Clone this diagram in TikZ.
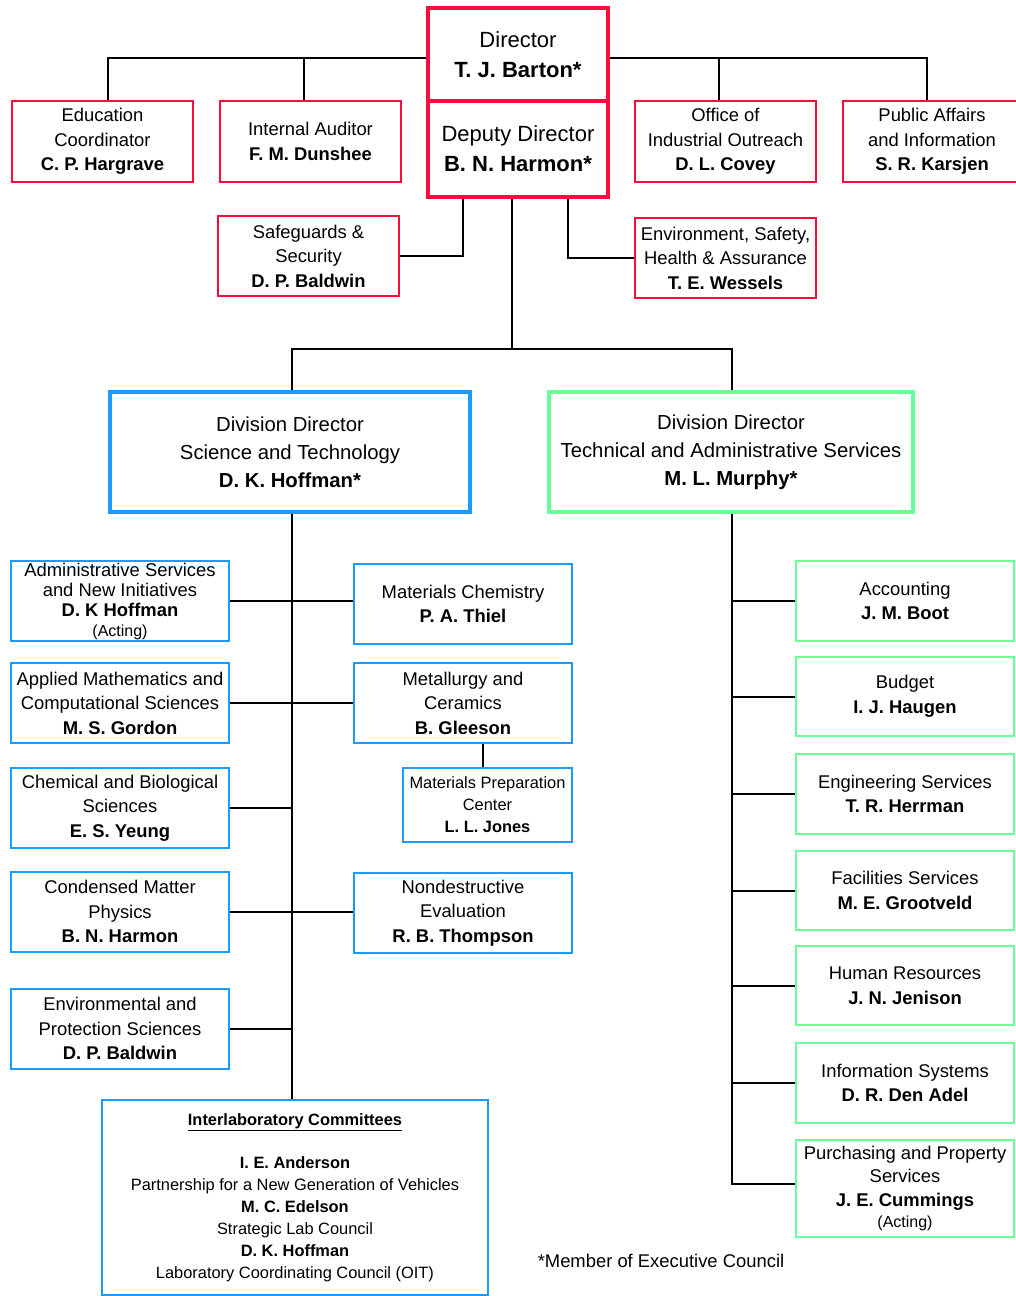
\documentclass[tikz,border=0pt]{standalone}
\usepackage{fontspec}
\setmainfont{Liberation Sans}
\usepackage{tikz}
\usetikzlibrary{positioning,calc}
\definecolor{boxred}{RGB}{255,10,60}
\definecolor{boxblue}{RGB}{26,155,255}
\definecolor{boxgreen}{RGB}{102,255,153}

\begin{document}
\begin{tikzpicture}[
  x=1pt, y=-1pt,
  font=\fontsize{18.4}{24.5}\selectfont,
  unit/.style={draw, fill=white, align=center, inner sep=0pt, minimum width=218pt, minimum height=80pt},
  redbox/.style={unit, draw=boxred, line width=2pt, minimum width=181pt, minimum height=81pt},
  topbox/.style={redbox, line width=3.5pt, minimum width=180pt, font=\fontsize{22}{30}\selectfont},
  divbox/.style={unit, line width=3.5pt, minimum height=120pt, font=\fontsize{20.3}{28}\selectfont},
  bluebox/.style={unit, draw=boxblue, line width=2pt},
  greenbox/.style={unit, draw=boxgreen, line width=2pt},
  small/.style={font=\fontsize{16.4}{22}\selectfont},
  link/.style={draw=black, line width=2pt},
]
\useasboundingbox (0,0) rectangle (1016,1296);

% director's office
\node[topbox, minimum height=93pt] (dir) at (518,54.5) {Director\\\textbf{T. J. Barton*}};
\node[topbox, minimum height=96pt] (dep) at (518,149) {Deputy Director\\\textbf{B. N. Harmon*}};
\node[redbox] (edu) at (102.5,141.5) {Education\\Coordinator\\\textbf{C. P. Hargrave}};
\node[redbox] (audit) at (310.5,141.5) {Internal Auditor\\\textbf{F. M. Dunshee}};
\node[redbox] (outreach) at (725.5,141.5) {Office of\\Industrial Outreach\\\textbf{D. L. Covey}};
\node[redbox, minimum width=178pt] (public) at (932,141.5) {Public Affairs\\and Information\\\textbf{S. R. Karsjen}};
\node[redbox, minimum height=80pt] (safeg) at (308.5,256) {Safeguards \&\\Security\\\textbf{D. P. Baldwin}};
\node[redbox, minimum height=80pt] (esh) at (725.5,258) {Environment, Safety,\\Health \& Assurance\\\textbf{T. E. Wessels}};

% divisions
\node[divbox, draw=boxblue, minimum width=360pt] (st) at (290,452) {Division Director\\Science and Technology\\\textbf{D. K. Hoffman*}};
\node[divbox, draw=boxgreen, minimum width=364pt] (tas) at (731,452) {Division Director\\Technical and Administrative Services\\\textbf{M. L. Murphy*}};

% science and technology
\node[bluebox, font=\fontsize{18.4}{20}\selectfont] (admin) at (120,601) {Administrative Services\\and New Initiatives\\\textbf{D. K Hoffman}\\{\fontsize{16}{18}\selectfont(Acting)}};
\node[bluebox] (applied) at (120,703) {Applied Mathematics and\\Computational Sciences\\\textbf{M. S. Gordon}};
\node[bluebox] (chem) at (120,808) {Chemical and Biological\\Sciences\\\textbf{E. S. Yeung}};
\node[bluebox] (cond) at (120,911.5) {Condensed Matter\\Physics\\\textbf{B. N. Harmon}};
\node[bluebox] (env) at (120,1028.5) {Environmental and\\Protection Sciences\\\textbf{D. P. Baldwin}};
\node[bluebox] (matchem) at (463,604) {Materials Chemistry\\\textbf{P. A. Thiel}};
\node[bluebox] (metal) at (463,703) {Metallurgy and\\Ceramics\\\textbf{B. Gleeson}};
\node[bluebox, small, minimum width=169pt, minimum height=74pt] (prep) at (487.5,805) {Materials Preparation\\Center\\\textbf{L. L. Jones}};
\node[bluebox] (nde) at (463,913) {Nondestructive\\Evaluation\\\textbf{R. B. Thompson}};
\node[bluebox, small, minimum width=386pt, minimum height=195pt] (ic) at (295,1197.5) {\underline{\textbf{Interlaboratory Committees}}\\[21.5pt]\textbf{I. E. Anderson}\\Partnership for a New Generation of Vehicles\\\textbf{M. C. Edelson}\\Strategic Lab Council\\\textbf{D. K. Hoffman}\\Laboratory Coordinating Council (OIT)};

% technical and administrative services
\node[greenbox] (acct) at (905,601) {Accounting\\\textbf{J. M. Boot}};
\node[greenbox, minimum height=79pt] (budget) at (905,696.5) {Budget\\\textbf{I. J. Haugen}};
\node[greenbox] (eng) at (905,794) {Engineering Services\\\textbf{T. R. Herrman}};
\node[greenbox, minimum height=79pt] (fac) at (905,890.5) {Facilities Services\\\textbf{M. E. Grootveld}};
\node[greenbox, minimum height=79pt] (hr) at (905,985.5) {Human Resources\\\textbf{J. N. Jenison}};
\node[greenbox] (info) at (905,1083) {Information Systems\\\textbf{D. R. Den Adel}};
\node[greenbox, minimum height=97pt, font=\fontsize{18.4}{23.5}\selectfont] (purch) at (905,1188.5) {Purchasing and Property\\Services\\\textbf{J. E. Cummings}\\[-2pt]{\fontsize{16}{18}\selectfont(Acting)}};

\node (note) at (661,1261) {*Member of Executive Council};

% connectors
\coordinate (split) at (512,349);
\draw[link] ([xshift=5.5pt]edu.north) |- ([yshift=-3.5pt]dir.west);
\draw[link] ([xshift=-6.5pt]audit.north) |- ([yshift=-3.5pt]dir.west);
\draw[link] ([xshift=-6.5pt]outreach.north) |- ([yshift=-3.5pt]dir.east);
\draw[link] ([xshift=-5pt]public.north) |- ([yshift=-3.5pt]dir.east);
\draw[link] ([xshift=-55pt]dep.south) |- (safeg.east);
\draw[link] ([xshift=50pt]dep.south) |- (esh.west);
\draw[link] (split |- dep.south) -- (split);
\draw[link] ([xshift=2pt]st.north) |- (split) -| ([xshift=1pt]tas.north);
\draw[link] ([xshift=2pt]st.south) -- ([xshift=2pt]st.south |- ic.north);
\draw[link] (admin.east) -- (admin.east -| matchem.west);
\draw[link] (applied.east) -- (metal.west);
\draw[link] (cond.east) -- (cond.east -| nde.west);
\foreach \n in {chem,env} \draw[link] (\n.east) -- ([xshift=2pt]\n.east -| st.south);
\draw[link] ([xshift=-4.5pt]prep.north) -- ([xshift=-4.5pt]prep.north |- metal.south);
\draw[link] ([xshift=1pt]tas.south) |- ([yshift=5pt]purch.west);
\foreach \n in {acct,budget,eng,fac,hr,info} \draw[link] (\n.west) -- ([xshift=1pt]\n.west -| tas.south);
\end{tikzpicture}
\end{document}
